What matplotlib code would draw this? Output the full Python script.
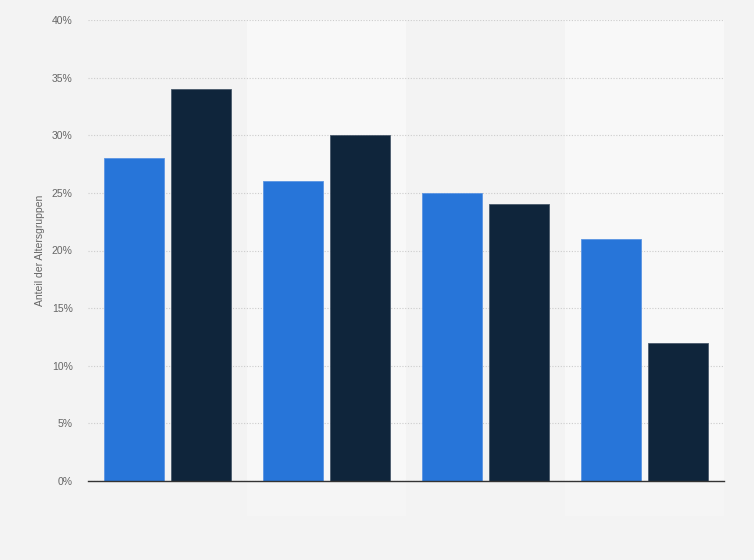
import matplotlib
matplotlib.use("Agg")
import matplotlib.pyplot as plt
import numpy as np

plt.rcParams["font.family"] = ["Liberation Sans", "DejaVu Sans"]

# data
gruppen = ["1", "2", "3", "4"]
werte_a = [28, 26, 25, 21]
werte_b = [34, 30, 24, 12]
y_ticks = [0, 5, 10, 15, 20, 25, 30, 35, 40]

bg = "#f3f3f3"
fig = plt.figure(figsize=(7.54, 5.6), dpi=100)
fig.patch.set_facecolor(bg)
ax = fig.add_axes([88/754, 1-481/560, 636/754, 461/560])
ax.set_facecolor(bg)

x = np.arange(len(gruppen))
breite = 0.377
abstand = 0.21

# lighter bands behind every second group
for i in x:
    if i % 2 == 1:
        ax.axvspan(i - 0.5, i + 0.5, ymin=0, ymax=1, color="#f8f8f8",
                   zorder=0, lw=0)
        ax.axvspan(i - 0.5, i + 0.5, ymin=-0.075, ymax=0, color="#f5f5f5",
                   zorder=0, clip_on=False, lw=0)

ax.bar(x - abstand, werte_a, breite, color="#2775d9", edgecolor="#5b95e3",
       linewidth=0.6, zorder=3)
ax.bar(x + abstand, werte_b, breite, color="#0f253b", edgecolor="#4a5a6c",
       linewidth=0.6, zorder=3)

ax.set_xlim(-0.5, len(gruppen) - 0.5)
ax.set_ylim(0, 40)
ax.set_yticks(y_ticks)
ax.set_yticklabels([f"{t}%" for t in y_ticks], fontsize=7.5, color="#666666")
ax.set_xticks([])
ax.tick_params(axis="y", length=0, pad=11)
ax.grid(axis="y", linestyle=(0, (1, 1.5)), color="#cccccc", linewidth=0.8, zorder=1)

for s in ["top", "right", "left"]:
    ax.spines[s].set_visible(False)
ax.spines["bottom"].set_color("#333333")
ax.spines["bottom"].set_linewidth(1)
ax.spines["bottom"].set_zorder(4)

ax.set_ylabel("Anteil der Altersgruppen", fontsize=7.5, color="#666666", labelpad=5)

fig.savefig("out.png", dpi=100, facecolor=bg)
